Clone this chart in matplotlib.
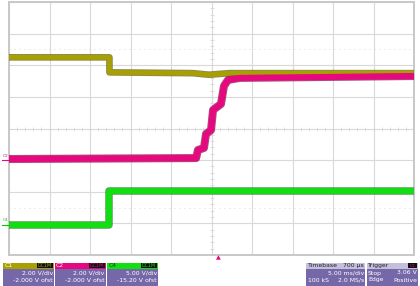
import numpy as np
import matplotlib
matplotlib.use("Agg")
import matplotlib.pyplot as plt
from matplotlib.patches import Rectangle

# --- scope settings (from the channel / timebase panels) ---
ms_per_div = 5.0
t_center = -0.7          # timebase delay 700 us
c1_vdiv, c1_ofst = 2.0, -2.0
c2_vdiv, c2_ofst = 2.0, -2.0
c4_vdiv, c4_ofst = 5.0, -15.2
trig_level = 3.06

# --- traces: time (ms), volts ---
c1_t = [-25.7, -13.3, -13.3, -3.0, -1.0, 1.5, 24.3]
c1_v = [6.5, 6.5, 5.55, 5.5, 5.4, 5.5, 5.5]

c2_t = [-25.7, -2.6, -2.37, -1.63, -1.38, -0.76, -0.51, 0.47, 0.84, 1.34, 2.8, 24.3]
c2_v = [0.07, 0.13, 0.64, 0.77, 1.65, 1.9, 3.17, 3.55, 4.69, 5.07, 5.2, 5.32]

c4_t = [-25.7, -13.3, -13.3, 24.3]
c4_v = [-0.05, -0.05, 5.3, 5.3]

W, H = 420, 286
fig = plt.figure(figsize=(W / 100, H / 100), dpi=100)
fig.patch.set_facecolor("white")

# plot area in pixels
px_l, px_r, px_t, px_b = 9, 414, 2, 255
ax = fig.add_axes([px_l / W, (H - px_b) / H, (px_r - px_l) / W, (px_b - px_t) / H])
x0 = t_center - 5 * ms_per_div
x1 = t_center + 5 * ms_per_div
ax.set_xlim(x0, x1)
ax.set_ylim(-4, 4)
ax.set_xticks([x0 + i * ms_per_div for i in range(11)])
ax.set_yticks(range(-4, 5))
ax.tick_params(length=0, labelbottom=False, labelleft=False)
ax.grid(True, color="#d9d9d9", lw=0.8)
for s in ax.spines.values():
    s.set_color("#c8c8c8")
    s.set_linewidth(1.4)

# centre crosshair minor ticks and dotted lines
mx = np.arange(x0, x1 + 0.01, ms_per_div / 5)
ax.plot(mx, np.zeros_like(mx), ls="none", marker="|", ms=2.2, mew=0.5, color="#d2d2d2")
my = np.arange(-4, 4.01, 0.2)
ax.plot(np.full_like(my, t_center), my, ls="none", marker="_", ms=2.2, mew=0.5, color="#d2d2d2")
for yy in (2.5, -2.5):
    ax.axhline(yy, color="#cccccc", lw=0.6, ls=(0, (1, 5)))


def to_div(v, vdiv, ofst):
    return (np.array(v) + ofst) / vdiv


def trace(t, v, vdiv, ofst, col, dark, lw):
    y = to_div(v, vdiv, ofst)
    ax.plot(t, y, color=dark, lw=lw + 1.4, solid_capstyle="butt", alpha=0.7, zorder=3)
    ax.plot(t, y, color=col, lw=lw, solid_capstyle="butt", zorder=4)


trace(c4_t, c4_v, c4_vdiv, c4_ofst, "#10e010", "#0a7a0a", 4.0)
trace(c1_t, c1_v, c1_vdiv, c1_ofst, "#a8a000", "#5e5a00", 3.4)
trace(c2_t, c2_v, c2_vdiv, c2_ofst, "#e6087e", "#8a0048", 4.4)


def fx(x):
    return x / W


def fy(y):
    return (H - y) / H


# channel ground markers on the left
fig.text(fx(3), fy(156), "C2", fontsize=3.2, color="#e6087e", va="center")
fig.add_artist(plt.Line2D([fx(2), fx(9)], [fy(160), fy(160)], color="#e6087e", lw=0.8))
fig.text(fx(3), fy(220), "C4", fontsize=3.2, color="#10c010", va="center")
fig.add_artist(plt.Line2D([fx(2), fx(9)], [fy(225), fy(225)], color="#10c010", lw=0.8))

# trigger position marker
fig.text(fx(218), fy(258), "\u25b2", fontsize=4.5, color="#e6087e", ha="center", va="center")

panel_body = "#7668a8"
fs = 4.4


def rect(x, y, w, h, col):
    fig.add_artist(Rectangle((fx(x), fy(y + h)), w / W, h / H, transform=fig.transFigure,
                             facecolor=col, edgecolor="none"))


def chan_box(x, name, col, ncol, vdiv, ofst):
    rect(x, 262.5, 51, 23.5, panel_body)
    rect(x, 262.5, 51, 6, col)
    fig.text(fx(x + 1.5), fy(265.7), name, fontsize=fs, color=ncol, va="center")
    rect(x + 34, 263.3, 16, 4.6, "#111111")
    fig.text(fx(x + 42), fy(265.7), "DC1M", fontsize=3.4, color=col, va="center", ha="center")
    fig.text(fx(x + 50), fy(273), "%.2f V/div" % vdiv, fontsize=fs, color="white", ha="right", va="center")
    fig.text(fx(x + 50), fy(280), "%.3f V ofst" % ofst if vdiv < 5 else "%.2f V ofst" % ofst,
             fontsize=fs, color="white", ha="right", va="center")


chan_box(3, "C1", "#a8a000", "white", c1_vdiv, c1_ofst)
chan_box(54.5, "C2", "#e6087e", "white", c2_vdiv, c2_ofst)
chan_box(107, "C4", "#10e010", "#203020", c4_vdiv, c4_ofst)

# timebase box
rect(306, 262.5, 59, 23.5, panel_body)
rect(306, 262.5, 59, 6, "#c4c0dc")
fig.text(fx(307.5), fy(265.7), "Timebase", fontsize=fs, color="#222222", va="center")
fig.text(fx(364), fy(265.7), "700 \u00b5s", fontsize=fs, color="#222222", va="center", ha="right")
fig.text(fx(364), fy(273), "5.00 ms/div", fontsize=fs, color="white", va="center", ha="right")
fig.text(fx(307.5), fy(280), "100 kS", fontsize=fs, color="white", va="center")
fig.text(fx(364), fy(280), "2.0 MS/s", fontsize=fs, color="white", va="center", ha="right")

# trigger box
rect(366.5, 262.5, 51.5, 23.5, panel_body)
rect(366.5, 262.5, 51.5, 6, "#c4c0dc")
fig.text(fx(368), fy(265.7), "Trigger", fontsize=fs, color="#222222", va="center")
rect(408, 263.3, 9, 4.6, "#111111")
fig.text(fx(412.5), fy(265.7), "C2", fontsize=3.2, color="#e6087e", va="center", ha="center")
fig.text(fx(368), fy(273), "Stop", fontsize=fs, color="white", va="center")
fig.text(fx(417), fy(273), "%.2f V" % trig_level, fontsize=fs, color="white", va="center", ha="right")
fig.text(fx(368), fy(280), "Edge", fontsize=fs, color="white", va="center")
fig.text(fx(417), fy(280), "Positive", fontsize=fs, color="white", va="center", ha="right")

fig.savefig("out.png", dpi=100)
